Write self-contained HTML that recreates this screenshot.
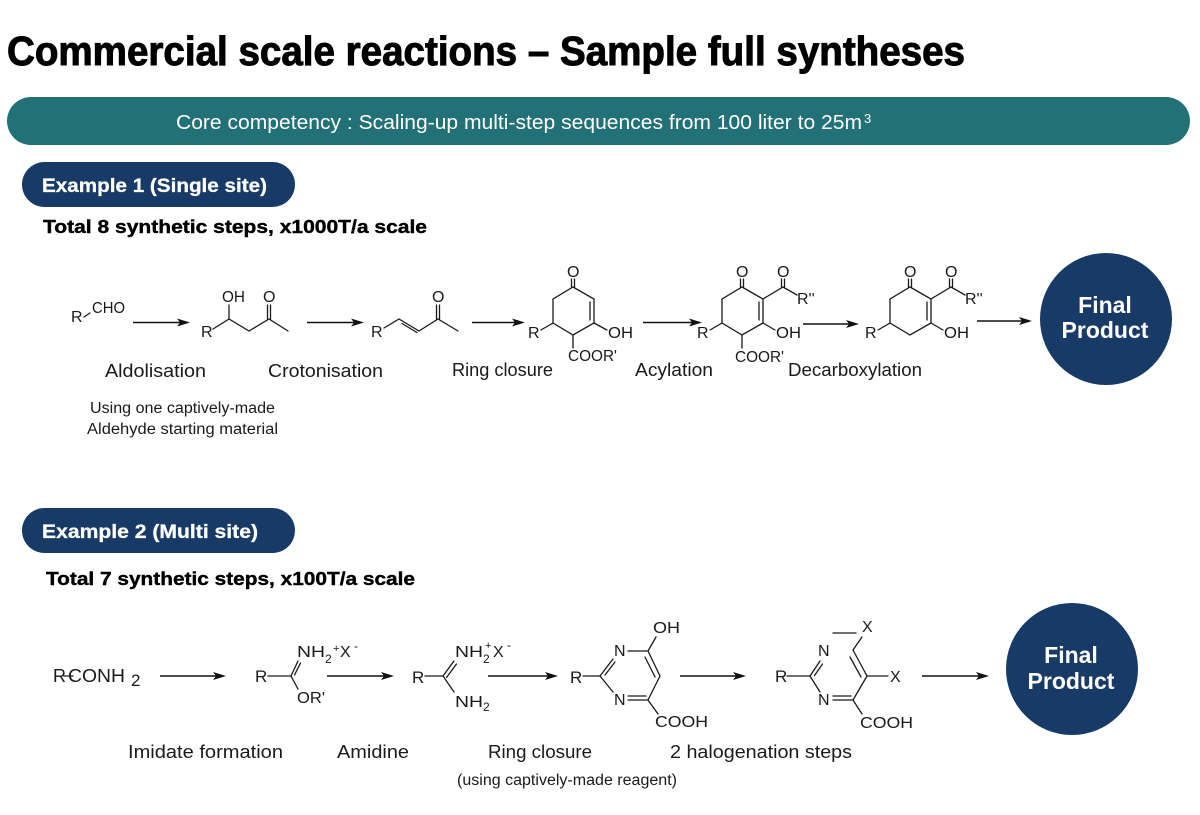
<!DOCTYPE html>
<html><head><meta charset="utf-8"><style>
html,body{margin:0;padding:0;background:#fff;}
svg{display:block;}
.t{font-family:"Liberation Sans",Arial,sans-serif;}
.c{font-family:"Liberation Sans",Arial,sans-serif;fill:#1a1a1a;}
.b{stroke:#1a1a1a;stroke-width:1.3;fill:none;stroke-linecap:round;}
.ar{stroke:#111;stroke-width:1.6;}
.hd{fill:#111;}
</style></head><body>
<svg width="1200" height="815" viewBox="0 0 1200 815" xmlns="http://www.w3.org/2000/svg">
<rect width="1200" height="815" fill="#fff"/>
<!-- Title -->
<text class="t" x="7" y="65" font-size="41" font-weight="bold" fill="#000" stroke="#000" stroke-width="1" textLength="958" lengthAdjust="spacingAndGlyphs">Commercial scale reactions – Sample full syntheses</text>
<!-- Teal banner -->
<rect x="7" y="97" width="1183" height="48" rx="24" fill="#217176"/>
<text class="t" x="176" y="129" font-size="20" fill="#fff" textLength="686" lengthAdjust="spacingAndGlyphs">Core competency : Scaling-up multi-step sequences from 100 liter to 25m</text>
<text class="t" x="864" y="123" font-size="13" fill="#fff">3</text>

<!-- Example 1 pill -->
<rect x="22" y="162" width="273" height="45" rx="22.5" fill="#173a66"/>
<text class="t" x="42" y="192" font-size="19.5" font-weight="bold" fill="#fff" stroke="#fff" stroke-width="0.3" textLength="225" lengthAdjust="spacingAndGlyphs">Example 1 (Single site)</text>
<text class="t" x="43" y="233" font-size="18.5" font-weight="bold" fill="#000" stroke="#000" stroke-width="0.4" textLength="384" lengthAdjust="spacingAndGlyphs">Total 8 synthetic steps, x1000T/a scale</text>

<!-- Example 2 pill -->
<rect x="22" y="508" width="273" height="45" rx="22.5" fill="#173a66"/>
<text class="t" x="42" y="538" font-size="19.5" font-weight="bold" fill="#fff" stroke="#fff" stroke-width="0.3" textLength="216" lengthAdjust="spacingAndGlyphs">Example 2 (Multi site)</text>
<text class="t" x="46" y="585" font-size="18.5" font-weight="bold" fill="#000" stroke="#000" stroke-width="0.4" textLength="369" lengthAdjust="spacingAndGlyphs">Total 7 synthetic steps, x100T/a scale</text>

<!-- Final product circles -->
<circle cx="1106" cy="319" r="66" fill="#173a66"/>
<text class="t" x="1105" y="313" font-size="23" font-weight="bold" fill="#fff" text-anchor="middle">Final</text>
<text class="t" x="1105" y="338" font-size="23" font-weight="bold" fill="#fff" text-anchor="middle">Product</text>
<circle cx="1072" cy="669" r="66" fill="#173a66"/>
<text class="t" x="1071" y="663" font-size="23" font-weight="bold" fill="#fff" text-anchor="middle">Final</text>
<text class="t" x="1071" y="689" font-size="23" font-weight="bold" fill="#fff" text-anchor="middle">Product</text>

<!-- Arrows example 1 -->
<g>
<line class="ar" x1="133" y1="322.5" x2="180" y2="322.5"/><polygon class="hd" points="190,322.5 177,318.5 180,322.5 177,326.5"/>
<line class="ar" x1="307" y1="322.5" x2="354" y2="322.5"/><polygon class="hd" points="364,322.5 351,318.5 354,322.5 351,326.5"/>
<line class="ar" x1="472" y1="322.5" x2="515" y2="322.5"/><polygon class="hd" points="525,322.5 512,318.5 515,322.5 512,326.5"/>
<line class="ar" x1="643" y1="322.5" x2="692" y2="322.5"/><polygon class="hd" points="702,322.5 689,318.5 692,322.5 689,326.5"/>
<line class="ar" x1="803" y1="324" x2="849" y2="324"/><polygon class="hd" points="859,324 846,320 849,324 846,328"/>
<line class="ar" x1="977" y1="321" x2="1022" y2="321"/><polygon class="hd" points="1032,321 1019,317 1022,321 1019,325"/>
</g>
<!-- Arrows example 2 -->
<g>
<line class="ar" x1="160" y1="676" x2="216" y2="676"/><polygon class="hd" points="226,676 213,672 216,676 213,680"/>
<line class="ar" x1="327" y1="676" x2="384" y2="676"/><polygon class="hd" points="394,676 381,672 384,676 381,680"/>
<line class="ar" x1="488" y1="676" x2="548" y2="676"/><polygon class="hd" points="558,676 545,672 548,676 545,680"/>
<line class="ar" x1="680" y1="676" x2="736" y2="676"/><polygon class="hd" points="746,676 733,672 736,676 733,680"/>
<line class="ar" x1="922" y1="676" x2="979" y2="676"/><polygon class="hd" points="989,676 976,672 979,676 976,680"/>
</g>

<!-- ===== Example 1 structures ===== -->
<!-- R-CHO -->
<text class="c" x="71" y="322" font-size="16">R</text>
<line class="b" x1="84" y1="317" x2="90" y2="313"/>
<text class="c" x="92" y="313" font-size="16" textLength="33" lengthAdjust="spacingAndGlyphs">CHO</text>

<!-- Aldol product -->
<text class="c" x="222" y="302" font-size="16" textLength="23" lengthAdjust="spacingAndGlyphs">OH</text>
<text class="c" x="263" y="302" font-size="16">O</text>
<text class="c" x="201" y="337" font-size="16">R</text>
<polyline class="b" points="213,329 229,319 249,331 269,319 288,331"/>
<line class="b" x1="229" y1="319" x2="229" y2="305"/>
<line class="b" x1="267.5" y1="319" x2="267.5" y2="305"/>
<line class="b" x1="270.5" y1="319" x2="270.5" y2="305"/>

<!-- Croton product -->
<text class="c" x="371" y="337" font-size="16">R</text>
<polyline class="b" points="384,328 399,319 419,331 438,319 458,331"/>
<line class="b" x1="402" y1="323.5" x2="417" y2="332.5"/>
<line class="b" x1="436.5" y1="319" x2="436.5" y2="305"/>
<line class="b" x1="439.5" y1="319" x2="439.5" y2="305"/>
<text class="c" x="432" y="302" font-size="16">O</text>

<!-- Ring closure product -->
<polygon class="b" points="573,287 594,299 594,323 573,335 553,323 553,299"/>
<line class="b" x1="590" y1="302" x2="590" y2="320"/>
<line class="b" x1="571.5" y1="287" x2="571.5" y2="279"/>
<line class="b" x1="574.5" y1="287" x2="574.5" y2="279"/>
<text class="c" x="567" y="277" font-size="16">O</text>
<line class="b" x1="553" y1="323" x2="541" y2="330"/>
<text class="c" x="528" y="338" font-size="16">R</text>
<line class="b" x1="594" y1="323" x2="607" y2="330"/>
<text class="c" x="608" y="338" font-size="16" textLength="25" lengthAdjust="spacingAndGlyphs">OH</text>
<line class="b" x1="573" y1="335" x2="573" y2="348"/>
<text class="c" x="568" y="361" font-size="16" textLength="49" lengthAdjust="spacingAndGlyphs">COOR'</text>

<!-- Acylation product -->
<polygon class="b" points="742,287 763,299 763,323 742,335 722,323 722,299"/>
<line class="b" x1="759" y1="302" x2="759" y2="320"/>
<line class="b" x1="740.5" y1="287" x2="740.5" y2="279"/>
<line class="b" x1="743.5" y1="287" x2="743.5" y2="279"/>
<text class="c" x="736" y="277" font-size="16">O</text>
<polyline class="b" points="763,299 783,287 797,295"/>
<line class="b" x1="781.5" y1="287" x2="781.5" y2="279"/>
<line class="b" x1="784.5" y1="287" x2="784.5" y2="279"/>
<text class="c" x="777" y="277" font-size="16">O</text>
<text class="c" x="797" y="304" font-size="16">R''</text>
<line class="b" x1="763" y1="323" x2="775" y2="330"/>
<text class="c" x="776" y="338" font-size="16" textLength="25" lengthAdjust="spacingAndGlyphs">OH</text>
<line class="b" x1="722" y1="323" x2="710" y2="330"/>
<text class="c" x="697" y="338" font-size="16">R</text>
<line class="b" x1="742" y1="335" x2="742" y2="348"/>
<text class="c" x="735" y="362" font-size="16" textLength="49" lengthAdjust="spacingAndGlyphs">COOR'</text>

<!-- Decarboxylation product -->
<polygon class="b" points="910,287 931,299 931,323 910,335 890,323 890,299"/>
<line class="b" x1="927" y1="302" x2="927" y2="320"/>
<line class="b" x1="908.5" y1="287" x2="908.5" y2="279"/>
<line class="b" x1="911.5" y1="287" x2="911.5" y2="279"/>
<text class="c" x="904" y="277" font-size="16">O</text>
<polyline class="b" points="931,299 951,287 965,295"/>
<line class="b" x1="949.5" y1="287" x2="949.5" y2="279"/>
<line class="b" x1="952.5" y1="287" x2="952.5" y2="279"/>
<text class="c" x="945" y="277" font-size="16">O</text>
<text class="c" x="965" y="304" font-size="16">R''</text>
<line class="b" x1="931" y1="323" x2="943" y2="330"/>
<text class="c" x="944" y="338" font-size="16" textLength="25" lengthAdjust="spacingAndGlyphs">OH</text>
<line class="b" x1="890" y1="323" x2="878" y2="330"/>
<text class="c" x="865" y="338" font-size="16">R</text>

<!-- Ex1 labels -->
<g class="t" fill="#1a1a1a" font-size="18.5">
<text x="105" y="377" textLength="101" lengthAdjust="spacingAndGlyphs">Aldolisation</text>
<text x="268" y="377" textLength="115" lengthAdjust="spacingAndGlyphs">Crotonisation</text>
<text x="452" y="376" textLength="101" lengthAdjust="spacingAndGlyphs">Ring closure</text>
<text x="635" y="376" textLength="78" lengthAdjust="spacingAndGlyphs">Acylation</text>
<text x="788" y="376" textLength="134" lengthAdjust="spacingAndGlyphs">Decarboxylation</text>
</g>
<g class="t" fill="#1a1a1a" font-size="15.5">
<text x="90" y="413" textLength="185" lengthAdjust="spacingAndGlyphs">Using one captively-made</text>
<text x="87" y="434" textLength="191" lengthAdjust="spacingAndGlyphs">Aldehyde starting material</text>
</g>

<!-- ===== Example 2 structures ===== -->
<!-- R-CONH2 -->
<text class="c" x="53" y="682" font-size="18">R</text>
<line class="b" x1="64" y1="676" x2="73" y2="676"/>
<text class="c" x="68" y="682" font-size="18" textLength="57" lengthAdjust="spacingAndGlyphs">CONH</text>
<text class="c" x="131" y="686" font-size="17">2</text>

<!-- Imidate -->
<text class="c" x="255" y="682" font-size="17">R</text>
<line class="b" x1="268" y1="676" x2="291" y2="676"/>
<line class="b" x1="291" y1="676" x2="298" y2="661"/>
<line class="b" x1="294.5" y1="675" x2="300.5" y2="663"/>
<line class="b" x1="291" y1="676" x2="298" y2="689"/>
<text class="c" x="297" y="703" font-size="16" textLength="28" lengthAdjust="spacingAndGlyphs">OR'</text>
<text class="c" x="297" y="657" font-size="16" textLength="28" lengthAdjust="spacingAndGlyphs">NH</text>
<text class="c" x="325" y="663" font-size="12">2</text>
<text class="c" x="333" y="652" font-size="11">+</text>
<text class="c" x="340" y="657" font-size="16">X</text>
<text class="c" x="354" y="650" font-size="12">-</text>

<!-- Amidine -->
<text class="c" x="412" y="683" font-size="17">R</text>
<line class="b" x1="425" y1="676" x2="443" y2="676"/>
<line class="b" x1="443" y1="676" x2="454" y2="661"/>
<line class="b" x1="446.5" y1="677.5" x2="456.5" y2="664"/>
<line class="b" x1="443" y1="676" x2="454" y2="692"/>
<text class="c" x="455" y="657" font-size="16" textLength="28" lengthAdjust="spacingAndGlyphs">NH</text>
<text class="c" x="483" y="663" font-size="12">2</text>
<text class="c" x="485" y="649" font-size="11">+</text>
<text class="c" x="493" y="657" font-size="16">X</text>
<text class="c" x="507" y="649" font-size="12">-</text>
<text class="c" x="455" y="707" font-size="16" textLength="28" lengthAdjust="spacingAndGlyphs">NH</text>
<text class="c" x="483" y="711" font-size="12">2</text>

<!-- Pyrimidine -->
<text class="c" x="570" y="683" font-size="17">R</text>
<line class="b" x1="583" y1="676" x2="600" y2="676"/>
<line class="b" x1="600" y1="676" x2="613" y2="659"/>
<line class="b" x1="605" y1="675" x2="615" y2="662"/>
<text class="c" x="614" y="656" font-size="16">N</text>
<line class="b" x1="628" y1="651" x2="647" y2="651"/>
<line class="b" x1="648" y1="651" x2="656" y2="637"/>
<text class="c" x="653" y="633" font-size="16" textLength="27" lengthAdjust="spacingAndGlyphs">OH</text>
<line class="b" x1="648" y1="651" x2="660" y2="676"/>
<line class="b" x1="645" y1="657" x2="655" y2="677"/>
<line class="b" x1="660" y1="676" x2="648" y2="700"/>
<line class="b" x1="628" y1="700" x2="648" y2="700"/>
<line class="b" x1="628" y1="696" x2="646" y2="696"/>
<text class="c" x="614" y="705" font-size="16">N</text>
<line class="b" x1="613" y1="692" x2="600" y2="676"/>
<line class="b" x1="648" y1="700" x2="658" y2="714"/>
<text class="c" x="655" y="727" font-size="16" textLength="53" lengthAdjust="spacingAndGlyphs">COOH</text>

<!-- Halogenated pyrimidine -->
<text class="c" x="775" y="682" font-size="17">R</text>
<line class="b" x1="787" y1="676" x2="810" y2="676"/>
<line class="b" x1="810" y1="676" x2="820" y2="661"/>
<line class="b" x1="814.5" y1="675.5" x2="822.5" y2="664"/>
<text class="c" x="818" y="656" font-size="16">N</text>
<line class="b" x1="833" y1="633" x2="856" y2="633"/>
<text class="c" x="862" y="632" font-size="16">X</text>
<line class="b" x1="862" y1="637" x2="853" y2="650"/>
<line class="b" x1="853" y1="650" x2="867" y2="676"/>
<line class="b" x1="850" y1="657" x2="861" y2="677"/>
<line class="b" x1="867" y1="676" x2="888" y2="676"/>
<text class="c" x="890" y="682" font-size="16">X</text>
<line class="b" x1="867" y1="676" x2="853" y2="700"/>
<line class="b" x1="833" y1="700" x2="853" y2="700"/>
<line class="b" x1="833" y1="696" x2="851" y2="696"/>
<text class="c" x="818" y="705" font-size="16">N</text>
<line class="b" x1="820" y1="692" x2="810" y2="676"/>
<line class="b" x1="853" y1="700" x2="862" y2="714"/>
<text class="c" x="860" y="728" font-size="16" textLength="53" lengthAdjust="spacingAndGlyphs">COOH</text>

<!-- Ex2 labels -->
<g class="t" fill="#1a1a1a" font-size="18.5">
<text x="128" y="758" textLength="155" lengthAdjust="spacingAndGlyphs">Imidate formation</text>
<text x="337" y="758" textLength="72" lengthAdjust="spacingAndGlyphs">Amidine</text>
<text x="488" y="758" textLength="104" lengthAdjust="spacingAndGlyphs">Ring closure</text>
<text x="670" y="758" textLength="182" lengthAdjust="spacingAndGlyphs">2 halogenation steps</text>
</g>
<text class="t" x="457" y="785" font-size="15.5" fill="#1a1a1a" textLength="220" lengthAdjust="spacingAndGlyphs">(using captively-made reagent)</text>
</svg>
</body></html>
